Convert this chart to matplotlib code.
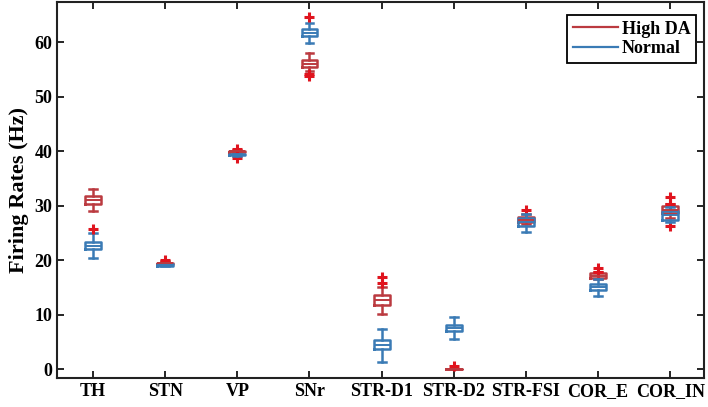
import numpy as np
import matplotlib
matplotlib.use("Agg")
import matplotlib.pyplot as plt
from matplotlib.lines import Line2D

plt.rcParams['font.family'] = ['Liberation Serif', 'DejaVu Serif']
plt.rcParams['font.weight'] = 'bold'

regions = ['TH', 'STN', 'VP', 'SNr', 'STR-D1', 'STR-D2', 'STR-FSI', 'COR_E', 'COR_IN']

# High DA condition (red)
hda_wlo = [29.0, 19.3, 39.6, 54.7, 10.2, 0.0, 26.6, 16.5, 27.8]
hda_q1 = [30.3, 19.4, 39.8, 55.4, 11.9, 0.0, 27.1, 16.7, 28.7]
hda_med = [31.0, 19.5, 40.0, 56.1, 12.8, 0.0, 27.5, 17.2, 29.3]
hda_q3 = [31.8, 19.6, 40.1, 56.7, 13.6, 0.05, 28.0, 17.6, 29.9]
hda_whi = [33.1, 19.8, 40.3, 58.1, 15.2, 0.1, 28.5, 17.8, 30.3]
hda_fliers = [[], [20.1], [40.4, 38.7], [54.2, 53.8], [16.9, 15.9], [0.6],
              [29.3], [18.6, 17.9], [31.6, 30.4, 26.3]]

# Normal condition (blue)
nrm_wlo = [20.5, 18.9, 39.2, 59.8, 1.3, 5.5, 25.2, 13.4, 27.0]
nrm_q1 = [22.0, 19.0, 39.3, 61.2, 3.7, 7.0, 26.3, 14.6, 27.5]
nrm_med = [22.6, 19.1, 39.4, 61.8, 4.5, 7.6, 27.0, 15.2, 28.3]
nrm_q3 = [23.3, 19.3, 39.5, 62.4, 5.3, 8.2, 27.7, 15.7, 29.1]
nrm_whi = [25.0, 19.4, 39.6, 63.5, 7.4, 9.6, 28.6, 16.5, 29.8]
nrm_fliers = [[25.8], [], [], [64.6], [], [], [], [], []]

red = '#bb3a40'
blue = '#3a7bb5'
flier_red = '#e0141e'


def make_stats(wlo, q1, med, q3, whi, fl):
    return [dict(whislo=a, q1=b, med=c, q3=d, whishi=e, fliers=f)
            for a, b, c, d, e, f in zip(wlo, q1, med, q3, whi, fl)]


fig = plt.figure(figsize=(7.08, 4.07), dpi=100)
ax = fig.add_axes([0.0805, 0.071, 0.914, 0.924])

pos = np.arange(1, len(regions) + 1)
for stats, col in [(make_stats(hda_wlo, hda_q1, hda_med, hda_q3, hda_whi, hda_fliers), red),
                   (make_stats(nrm_wlo, nrm_q1, nrm_med, nrm_q3, nrm_whi, nrm_fliers), blue)]:
    ax.bxp(stats, positions=pos, widths=0.22, showfliers=True,
           boxprops=dict(color=col, linewidth=1.8),
           medianprops=dict(color=col, linewidth=1.4),
           whiskerprops=dict(color=col, linewidth=1.8, linestyle='-'),
           capprops=dict(color=col, linewidth=1.8),
           capwidths=0.11,
           flierprops=dict(marker='+', markeredgecolor=flier_red, markersize=7,
                           markeredgewidth=2.2, linestyle='none'))

ax.set_xlim(0.5, 9.47)
ax.set_ylim(-1.6, 67.4)
ax.set_xticks(pos)
ax.set_xticklabels(regions, fontsize=13, fontweight='bold')
ax.set_yticks(np.arange(0, 61, 10))
ax.tick_params(axis='y', labelsize=13, direction='in', right=True, length=5, width=1.2)
ax.tick_params(axis='x', direction='in', top=True, length=5, width=1.2)
for s in ax.spines.values():
    s.set_linewidth(1.5)
    s.set_color('#222222')
ax.set_ylabel('Firing Rates (Hz)', fontsize=16, fontweight='bold')

handles = [Line2D([0], [0], color=red, lw=1.6), Line2D([0], [0], color=blue, lw=1.6)]
leg = ax.legend(handles, ['High DA', 'Normal'], loc='upper right', fontsize=13,
                fancybox=False, edgecolor='black', framealpha=1,
                handlelength=2.5, handletextpad=0.2, borderpad=0.3,
                borderaxespad=0.0, labelspacing=0.15,
                bbox_to_anchor=(0.987, 0.965))
leg.get_frame().set_linewidth(1.3)
for t in leg.get_texts():
    t.set_fontweight('bold')

fig.savefig('out.png', dpi=100)
